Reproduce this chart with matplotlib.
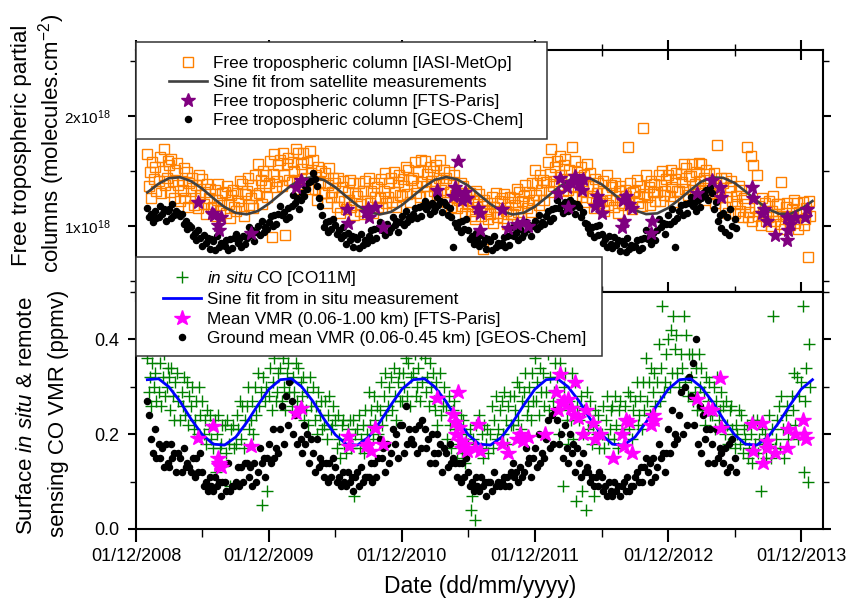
import numpy as np
import pandas as pd
import matplotlib
matplotlib.use("Agg")
import matplotlib.pyplot as plt
import matplotlib.dates as mdates
from matplotlib.patches import Rectangle
from matplotlib.ticker import MultipleLocator, FormatStrFormatter

plt.rcParams['font.family'] = 'Liberation Sans'
plt.rcParams['mathtext.fontset'] = 'custom'
plt.rcParams['mathtext.rm'] = 'Liberation Sans'
plt.rcParams['mathtext.it'] = 'Liberation Sans:italic'

# ---------------- data ----------------
# one row per month, Jan 2009 .. Dec 2013
months = pd.date_range('2009-01-01', '2013-12-01', freq='MS')
days8 = [1, 5, 8, 12, 15, 19, 23, 26]
days6 = [1, 6, 11, 16, 21, 26]

# IASI-MetOp free tropospheric column (x1e18 molecules/cm2), 8 per month
iasi = [
    [1.65, 1.36, 1.49, 1.25, 1.58, 1.43, 1.54, 1.32],
    [1.41, 1.63, 1.30, 1.50, 1.70, 1.37, 1.44, 1.59],
    [1.55, 1.31, 1.61, 1.41, 1.25, 1.51, 1.57, 1.37],
    [1.23, 1.41, 1.33, 1.53, 1.25, 1.49, 1.17, 1.39],
    [1.32, 1.44, 1.19, 1.25, 1.37, 1.16, 1.46, 1.28],
    [1.43, 1.20, 1.31, 1.11, 1.38, 1.25, 1.34, 1.16],
    [1.17, 1.33, 1.09, 1.24, 1.38, 1.14, 1.19, 1.30],
    [1.31, 1.12, 1.36, 1.20, 1.07, 1.28, 1.33, 1.17],
    [1.14, 1.30, 1.23, 1.41, 1.16, 1.38, 1.09, 1.29],
    [1.32, 1.44, 1.19, 1.25, 1.37, 1.16, 1.46, 1.28],
    [1.56, 1.30, 1.42, 1.20, 1.50, 1.36, 1.46, 1.26],
    [1.39, 1.59, 0.90, 1.47, 1.65, 1.35, 1.41, 1.55],
    # 2010
    [1.60, 1.36, 1.66, 1.46, 0.92, 1.56, 1.62, 1.42],
    [1.40, 1.58, 1.50, 1.70, 1.42, 1.66, 1.34, 1.56],
    [1.52, 1.66, 1.38, 1.44, 1.58, 1.34, 1.68, 1.48],
    [1.60, 1.34, 1.46, 1.24, 1.54, 1.40, 1.50, 1.30],
    [1.30, 1.48, 1.21, 1.37, 1.53, 1.26, 1.31, 1.44],
    [1.39, 1.17, 1.44, 1.26, 1.12, 1.35, 1.41, 1.23],
    [1.15, 1.31, 1.24, 1.42, 1.17, 1.39, 1.10, 1.30],
    [1.27, 1.39, 1.14, 1.20, 1.32, 1.11, 1.41, 1.23],
    [1.44, 1.21, 1.32, 1.12, 1.39, 1.26, 1.35, 1.17],
    [1.25, 1.43, 1.16, 1.32, 1.48, 1.21, 1.26, 1.39],
    [1.44, 1.22, 1.49, 1.31, 1.17, 1.40, 1.46, 1.28],
    [1.27, 1.43, 1.36, 1.54, 1.29, 1.51, 1.22, 1.42],
    # 2011
    [1.44, 1.58, 1.30, 1.36, 1.50, 1.26, 1.60, 1.40],
    [1.59, 1.36, 1.47, 1.27, 1.54, 1.41, 1.50, 1.32],
    [1.37, 1.55, 1.28, 1.44, 1.60, 1.33, 1.38, 1.51],
    [1.44, 1.22, 1.49, 1.31, 1.17, 1.40, 1.46, 1.28],
    [1.16, 1.30, 1.24, 1.39, 1.18, 1.36, 1.12, 1.28],
    [1.20, 1.30, 1.09, 1.14, 1.24, 1.06, 1.32, 1.17],
    [1.29, 1.09, 1.18, 0.79, 1.24, 1.14, 1.21, 1.06],
    [1.11, 1.26, 1.03, 1.17, 1.30, 1.08, 1.12, 1.23],
    [1.25, 1.07, 1.29, 1.14, 1.02, 1.22, 1.26, 1.11],
    [1.11, 1.25, 1.19, 1.34, 1.13, 1.31, 1.07, 1.23],
    [1.27, 1.37, 1.16, 1.21, 1.31, 1.13, 1.39, 1.24],
    [1.51, 1.28, 1.39, 1.19, 1.46, 1.33, 1.42, 1.24],
    # 2012
    [1.40, 1.58, 1.31, 1.47, 1.70, 1.36, 1.41, 1.54],
    [1.59, 1.37, 1.64, 1.46, 1.32, 1.55, 1.61, 1.43],
    [1.33, 1.51, 1.43, 1.72, 1.35, 1.59, 1.27, 1.49],
    [1.40, 1.54, 1.26, 1.32, 1.46, 1.22, 1.56, 1.36],
    [1.48, 1.25, 1.36, 1.16, 1.43, 1.30, 1.39, 1.21],
    [1.23, 1.41, 1.14, 1.30, 1.46, 1.19, 1.24, 1.37],
    [1.35, 1.17, 1.39, 1.24, 1.12, 1.32, 1.36, 1.21],
    [1.19, 1.33, 1.27, 1.72, 1.21, 1.39, 1.15, 1.31],
    [1.32, 1.42, 1.21, 1.26, 1.36, 1.18, 1.89, 1.29],
    [1.46, 1.26, 1.35, 1.19, 1.41, 1.31, 1.38, 1.23],
    [1.31, 1.46, 1.23, 1.37, 1.50, 1.28, 1.32, 1.43],
    [1.46, 1.27, 1.51, 1.35, 1.22, 1.43, 1.48, 1.32],
    # 2013
    [1.32, 1.47, 1.40, 1.56, 1.34, 1.53, 1.28, 1.45],
    [1.45, 1.56, 1.33, 1.38, 1.49, 1.30, 1.57, 1.41],
    [1.56, 1.33, 1.44, 1.24, 1.51, 1.38, 1.47, 1.29],
    [1.30, 1.48, 1.21, 1.37, 1.74, 1.26, 1.31, 1.44],
    [1.39, 1.17, 1.44, 1.26, 1.12, 1.35, 1.41, 1.23],
    [1.12, 1.27, 1.20, 1.36, 1.14, 1.33, 1.08, 1.25],
    [1.20, 1.72, 1.08, 1.13, 1.64, 1.05, 1.55, 1.16],
    [1.46, 1.09, 1.18, 1.01, 1.25, 1.13, 1.21, 1.05],
    [1.08, 1.23, 1.00, 1.14, 1.27, 1.05, 1.09, 1.20],
    [1.20, 1.02, 1.40, 1.09, 0.97, 1.17, 1.21, 1.06],
    [1.01, 1.15, 1.09, 1.24, 1.03, 1.21, 0.97, 1.13],
    [1.12, 1.22, 1.01, 1.06, 1.16, 0.72, 1.23, 1.09],
]

# GEOS-Chem free tropospheric column (x1e18), 6 per month, Jan 2009 .. Jun 2013
geos_col = [
    [1.16, 1.08, 1.11, 1.04, 1.14, 1.07],
    [1.08, 1.18, 1.11, 1.15, 1.05, 1.14],
    [1.15, 1.07, 1.20, 1.10, 1.14, 1.12],
    [1.09, 1.11, 1.02, 1.05, 0.97, 1.01],
    [0.99, 0.91, 0.94, 0.87, 0.96, 0.89],
    [0.82, 0.92, 0.85, 0.89, 0.79, 0.88],
    [0.86, 0.78, 0.91, 0.81, 0.85, 0.83],
    [0.82, 0.87, 0.78, 0.88, 0.80, 0.89],
    [0.93, 0.85, 0.88, 0.81, 0.91, 0.84],
    [0.89, 0.99, 0.92, 0.96, 0.86, 0.95],
    [1.00, 0.92, 1.05, 0.95, 0.99, 0.97],
    [1.04, 1.09, 1.00, 1.10, 1.02, 1.11],
    [1.18, 1.10, 1.13, 1.06, 1.16, 1.08],
    [1.18, 1.28, 1.21, 1.25, 1.15, 1.24],
    [1.30, 1.27, 1.36, 1.34, 1.40, 1.41],
    [1.48, 1.43, 1.36, 1.25, 1.18, 1.10],
    [0.99, 1.04, 0.95, 1.05, 0.97, 1.06],
    [1.01, 0.93, 0.96, 0.89, 0.99, 0.92],
    [0.84, 0.94, 0.87, 0.91, 0.81, 0.90],
    [0.88, 0.80, 0.93, 0.83, 0.87, 0.85],
    [0.91, 0.96, 0.87, 0.97, 0.89, 0.98],
    [1.04, 0.96, 0.99, 0.92, 1.02, 0.95],
    [0.98, 1.08, 1.01, 1.05, 0.95, 1.04],
    [1.09, 1.01, 1.14, 1.04, 1.08, 1.06],
    [1.11, 1.16, 1.07, 1.17, 1.09, 1.18],
    [1.23, 1.15, 1.18, 1.11, 1.21, 1.14],
    [1.16, 1.26, 1.19, 1.23, 1.13, 1.22],
    [1.19, 1.10, 1.16, 1.08, 0.81, 1.03],
    [0.99, 1.04, 0.95, 1.05, 0.97, 1.06],
    [0.96, 0.88, 0.91, 0.84, 0.94, 0.87],
    [0.82, 0.92, 0.85, 0.89, 0.79, 0.88],
    [0.86, 0.78, 0.91, 0.81, 0.85, 0.83],
    [0.85, 0.90, 0.81, 0.91, 0.83, 0.92],
    [0.99, 0.91, 0.94, 0.87, 0.97, 0.90],
    [0.94, 1.04, 0.97, 1.01, 0.91, 1.00],
    [1.05, 0.97, 1.10, 1.00, 1.04, 1.02],
    [1.09, 1.14, 1.05, 1.15, 1.07, 1.16],
    [1.24, 1.16, 1.19, 1.12, 1.22, 1.15],
    [1.14, 1.24, 1.17, 1.21, 1.11, 1.20],
    [1.17, 1.08, 1.13, 1.03, 1.02, 0.98],
    [0.94, 0.99, 0.90, 1.00, 0.92, 1.01],
    [0.93, 0.85, 0.88, 0.81, 0.91, 0.84],
    [0.80, 0.90, 0.83, 0.87, 0.77, 0.86],
    [0.84, 0.76, 0.89, 0.79, 0.83, 0.81],
    [0.82, 0.87, 0.78, 0.88, 0.80, 0.89],
    [0.96, 0.88, 0.91, 0.84, 0.94, 0.87],
    [0.96, 1.06, 0.99, 1.03, 0.93, 1.02],
    [1.10, 1.02, 1.15, 1.05, 0.81, 1.07],
    [1.14, 1.19, 1.10, 1.20, 1.12, 1.21],
    [1.26, 1.18, 1.21, 1.14, 1.24, 1.17],
    [1.25, 1.30, 1.27, 1.33, 1.24, 1.35],
    [1.30, 1.15, 1.22, 1.05, 1.10, 0.98],
    [1.12, 0.95, 1.08, 0.92, 1.15, 1.00],
    [1.06, 0.98],
]

# sine fit of satellite columns, value on the 1st of each month Jan 2009 .. Jan 2014
sat_fit = [1.305, 1.384, 1.434, 1.443, 1.408, 1.339, 1.253, 1.172, 1.119, 1.106, 1.137, 1.204,
           1.289, 1.371, 1.428, 1.445, 1.417, 1.353, 1.269, 1.186, 1.126, 1.105, 1.128, 1.190,
           1.274, 1.358, 1.420, 1.445, 1.425, 1.367, 1.284, 1.199, 1.134, 1.105, 1.121, 1.176,
           1.258, 1.344, 1.411, 1.444, 1.432, 1.380, 1.300, 1.214, 1.143, 1.108, 1.115, 1.164,
           1.242, 1.329, 1.402, 1.441, 1.438, 1.392, 1.315, 1.229, 1.154, 1.111, 1.110, 1.155,
           1.227]

# FTS-Paris free tropospheric column (x1e18)
fts_col_dates = ['2009-05-20', '2009-06-28', '2009-07-03', '2009-07-14', '2009-07-16', '2009-07-22',
                 '2009-10-13', '2010-02-13', '2010-02-27', '2010-07-04', '2010-07-06', '2010-08-25',
                 '2010-08-30', '2010-09-02', '2010-09-18', '2010-10-10', '2011-03-07', '2011-04-20',
                 '2011-04-26', '2011-05-04', '2011-05-08', '2011-05-15', '2011-05-22', '2011-05-29',
                 '2011-06-28', '2011-07-02', '2011-07-04', '2011-09-02', '2011-09-18', '2011-10-13',
                 '2011-10-30', '2011-11-12', '2012-02-02', '2012-02-08', '2012-02-28', '2012-03-01',
                 '2012-03-10', '2012-03-21', '2012-03-30', '2012-04-08', '2012-04-12', '2012-05-14',
                 '2012-05-20', '2012-05-28', '2012-06-03', '2012-07-26', '2012-07-30', '2012-08-01',
                 '2012-08-06', '2012-08-14', '2012-08-24', '2012-10-14', '2012-10-18', '2013-02-19',
                 '2013-04-01', '2013-04-23', '2013-04-25', '2013-07-20', '2013-07-22', '2013-08-16',
                 '2013-08-22', '2013-08-30', '2013-09-21', '2013-10-22', '2013-10-24', '2013-10-26',
                 '2013-10-30', '2013-11-15', '2013-12-12', '2013-12-16']
fts_col = [1.22, 1.12, 1.10, 1.01, 0.96, 1.08,
           0.94, 1.35, 1.42, 1.15, 1.03, 1.13,
           1.16, 1.08, 1.17, 0.99, 1.33, 1.27,
           1.35, 1.59, 1.30, 1.24, 1.31, 1.25,
           1.16, 1.12, 0.96, 1.15, 0.98, 1.02,
           1.04, 1.00, 1.30, 1.44, 1.35, 1.17,
           1.40, 1.45, 1.38, 1.33, 1.43, 1.18,
           1.27, 1.22, 1.12, 0.99, 1.24, 1.05,
           1.27, 1.20, 1.16, 0.94, 1.05, 1.30,
           1.42, 1.35, 1.26, 1.35, 1.25, 1.12,
           1.15, 1.05, 0.92, 0.87, 1.08, 0.96,
           1.02, 1.08, 1.08, 1.15]

# in situ CO (ppmv), 8 per month
insitu = [
    [0.36, 0.29, 0.32, 0.26, 0.35, 0.30, 0.33, 0.27],
    [0.29, 0.35, 0.26, 0.32, 0.37, 0.28, 0.30, 0.34],
    [0.32, 0.25, 0.34, 0.28, 0.23, 0.31, 0.33, 0.27],
    [0.23, 0.29, 0.26, 0.32, 0.24, 0.31, 0.22, 0.28],
    [0.26, 0.30, 0.21, 0.23, 0.27, 0.20, 0.30, 0.24],
    [0.27, 0.20, 0.23, 0.18, 0.25, 0.21, 0.24, 0.19],
    [0.17, 0.23, 0.12, 0.20, 0.24, 0.17, 0.18, 0.22],
    [0.22, 0.16, 0.23, 0.18, 0.09, 0.21, 0.22, 0.17],
    [0.18, 0.24, 0.21, 0.27, 0.19, 0.26, 0.17, 0.23],
    [0.26, 0.30, 0.21, 0.23, 0.27, 0.20, 0.30, 0.24],
    [0.33, 0.26, 0.29, 0.05, 0.32, 0.27, 0.30, 0.08],
    [0.28, 0.34, 0.25, 0.31, 0.36, 0.27, 0.29, 0.33],
    # 2010
    [0.34, 0.27, 0.36, 0.30, 0.25, 0.33, 0.35, 0.29],
    [0.26, 0.32, 0.29, 0.35, 0.27, 0.34, 0.25, 0.31],
    [0.28, 0.32, 0.23, 0.25, 0.29, 0.22, 0.32, 0.26],
    [0.30, 0.23, 0.26, 0.20, 0.29, 0.24, 0.27, 0.21],
    [0.22, 0.27, 0.19, 0.24, 0.28, 0.21, 0.22, 0.26],
    [0.23, 0.17, 0.24, 0.19, 0.15, 0.22, 0.23, 0.18],
    [0.16, 0.21, 0.19, 0.23, 0.17, 0.23, 0.07, 0.20],
    [0.21, 0.24, 0.17, 0.19, 0.22, 0.16, 0.25, 0.20],
    [0.29, 0.22, 0.25, 0.19, 0.28, 0.23, 0.26, 0.20],
    [0.25, 0.31, 0.22, 0.28, 0.33, 0.24, 0.26, 0.30],
    [0.32, 0.25, 0.34, 0.28, 0.23, 0.31, 0.33, 0.27],
    [0.27, 0.33, 0.30, 0.36, 0.28, 0.35, 0.26, 0.32],
    # 2011
    [0.33, 0.37, 0.28, 0.30, 0.34, 0.27, 0.37, 0.31],
    [0.36, 0.29, 0.32, 0.26, 0.35, 0.30, 0.33, 0.27],
    [0.25, 0.31, 0.22, 0.28, 0.33, 0.24, 0.26, 0.30],
    [0.26, 0.19, 0.28, 0.22, 0.17, 0.25, 0.27, 0.21],
    [0.15, 0.21, 0.18, 0.24, 0.16, 0.23, 0.14, 0.20],
    [0.18, 0.21, 0.04, 0.07, 0.19, 0.02, 0.22, 0.17],
    [0.24, 0.17, 0.20, 0.15, 0.22, 0.18, 0.21, 0.16],
    [0.20, 0.26, 0.17, 0.23, 0.28, 0.19, 0.21, 0.25],
    [0.27, 0.20, 0.29, 0.23, 0.18, 0.26, 0.28, 0.22],
    [0.22, 0.28, 0.25, 0.31, 0.23, 0.30, 0.21, 0.27],
    [0.29, 0.33, 0.24, 0.26, 0.30, 0.23, 0.33, 0.27],
    [0.36, 0.27, 0.31, 0.24, 0.34, 0.29, 0.33, 0.26],
    # 2012
    [0.29, 0.37, 0.25, 0.32, 0.39, 0.27, 0.29, 0.35],
    [0.32, 0.20, 0.35, 0.25, 0.09, 0.30, 0.33, 0.23],
    [0.18, 0.27, 0.23, 0.33, 0.19, 0.31, 0.06, 0.26],
    [0.23, 0.28, 0.08, 0.20, 0.25, 0.04, 0.29, 0.21],
    [0.27, 0.18, 0.22, 0.07, 0.25, 0.20, 0.24, 0.17],
    [0.20, 0.26, 0.17, 0.23, 0.28, 0.19, 0.21, 0.25],
    [0.26, 0.19, 0.28, 0.22, 0.17, 0.25, 0.27, 0.21],
    [0.20, 0.26, 0.23, 0.29, 0.21, 0.28, 0.19, 0.25],
    [0.27, 0.31, 0.22, 0.24, 0.28, 0.21, 0.31, 0.25],
    [0.36, 0.27, 0.31, 0.24, 0.34, 0.29, 0.33, 0.26],
    [0.31, 0.39, 0.27, 0.34, 0.47, 0.29, 0.31, 0.37],
    [0.40, 0.30, 0.42, 0.33, 0.45, 0.38, 0.41, 0.33],
    # 2013
    [0.30, 0.37, 0.34, 0.45, 0.31, 0.41, 0.28, 0.37],
    [0.32, 0.37, 0.27, 0.29, 0.34, 0.25, 0.37, 0.30],
    [0.34, 0.25, 0.29, 0.22, 0.32, 0.27, 0.31, 0.24],
    [0.24, 0.30, 0.21, 0.27, 0.32, 0.23, 0.25, 0.29],
    [0.26, 0.20, 0.27, 0.22, 0.18, 0.25, 0.26, 0.21],
    [0.17, 0.22, 0.20, 0.25, 0.18, 0.24, 0.16, 0.21],
    [0.19, 0.22, 0.15, 0.17, 0.20, 0.14, 0.23, 0.18],
    [0.23, 0.16, 0.19, 0.08, 0.21, 0.18, 0.20, 0.15],
    [0.18, 0.24, 0.15, 0.21, 0.45, 0.17, 0.19, 0.23],
    [0.26, 0.17, 0.28, 0.21, 0.15, 0.24, 0.26, 0.19],
    [0.21, 0.28, 0.25, 0.33, 0.22, 0.32, 0.19, 0.28],
    [0.31, 0.47, 0.12, 0.27, 0.34, 0.10, 0.39, 0.30],
]

# GEOS-Chem ground mean VMR (ppmv), 6 per month, Jan 2009 .. Jun 2013
geos_vmr = [
    [0.27, 0.24, 0.19, 0.16, 0.21, 0.15],
    [0.18, 0.15, 0.17, 0.13, 0.18, 0.14],
    [0.13, 0.18, 0.15, 0.16, 0.12, 0.16],
    [0.15, 0.12, 0.17, 0.13, 0.14, 0.13],
    [0.12, 0.15, 0.11, 0.15, 0.12, 0.16],
    [0.12, 0.09, 0.10, 0.08, 0.11, 0.09],
    [0.08, 0.11, 0.09, 0.10, 0.07, 0.10],
    [0.10, 0.08, 0.14, 0.08, 0.09, 0.09],
    [0.10, 0.13, 0.09, 0.13, 0.10, 0.14],
    [0.14, 0.11, 0.13, 0.09, 0.14, 0.10],
    [0.12, 0.17, 0.14, 0.15, 0.11, 0.15],
    [0.18, 0.14, 0.21, 0.15, 0.17, 0.16],
    [0.21, 0.26, 0.18, 0.28, 0.22, 0.31],
    [0.27, 0.20, 0.24, 0.18, 0.25, 0.19],
    [0.16, 0.22, 0.18, 0.20, 0.14, 0.19],
    [0.16, 0.12, 0.19, 0.13, 0.15, 0.14],
    [0.11, 0.14, 0.10, 0.14, 0.11, 0.15],
    [0.13, 0.10, 0.11, 0.09, 0.12, 0.10],
    [0.09, 0.12, 0.10, 0.11, 0.08, 0.11],
    [0.12, 0.09, 0.13, 0.10, 0.11, 0.11],
    [0.11, 0.14, 0.10, 0.14, 0.11, 0.15],
    [0.19, 0.15, 0.17, 0.12, 0.18, 0.14],
    [0.16, 0.21, 0.18, 0.20, 0.15, 0.22],
    [0.22, 0.16, 0.26, 0.18, 0.21, 0.19],
    [0.18, 0.21, 0.16, 0.22, 0.17, 0.23],
    [0.21, 0.17, 0.19, 0.14, 0.20, 0.16],
    [0.14, 0.20, 0.16, 0.18, 0.12, 0.17],
    [0.16, 0.13, 0.18, 0.14, 0.15, 0.14],
    [0.11, 0.14, 0.10, 0.14, 0.11, 0.15],
    [0.12, 0.09, 0.10, 0.08, 0.11, 0.09],
    [0.08, 0.11, 0.09, 0.10, 0.07, 0.10],
    [0.10, 0.08, 0.12, 0.09, 0.10, 0.09],
    [0.10, 0.11, 0.09, 0.11, 0.09, 0.12],
    [0.14, 0.11, 0.12, 0.10, 0.13, 0.11],
    [0.12, 0.17, 0.14, 0.15, 0.11, 0.15],
    [0.17, 0.13, 0.20, 0.14, 0.16, 0.15],
    [0.19, 0.23, 0.17, 0.24, 0.18, 0.25],
    [0.23, 0.18, 0.20, 0.15, 0.22, 0.17],
    [0.14, 0.20, 0.16, 0.18, 0.12, 0.17],
    [0.14, 0.11, 0.16, 0.12, 0.13, 0.12],
    [0.10, 0.11, 0.09, 0.11, 0.09, 0.12],
    [0.11, 0.08, 0.09, 0.07, 0.10, 0.08],
    [0.07, 0.10, 0.08, 0.09, 0.07, 0.09],
    [0.10, 0.08, 0.11, 0.08, 0.09, 0.09],
    [0.11, 0.12, 0.10, 0.13, 0.10, 0.13],
    [0.15, 0.12, 0.14, 0.10, 0.15, 0.11],
    [0.13, 0.18, 0.15, 0.16, 0.12, 0.16],
    [0.21, 0.16, 0.25, 0.18, 0.20, 0.19],
    [0.24, 0.29, 0.20, 0.30, 0.22, 0.32],
    [0.28, 0.35, 0.22, 0.40, 0.18, 0.26],
    [0.16, 0.24, 0.19, 0.21, 0.14, 0.21],
    [0.18, 0.14, 0.21, 0.15, 0.17, 0.16],
    [0.14, 0.17, 0.12, 0.18, 0.13, 0.19],
    [0.15, 0.12],
]

# sine fit of in situ data, 1st of each month Jan 2009 .. Jan 2014
insitu_fit = [0.315, 0.317, 0.300, 0.269, 0.232, 0.199, 0.179, 0.177, 0.194, 0.225, 0.262, 0.295,
              0.315, 0.317, 0.300, 0.269, 0.232, 0.199, 0.179, 0.177, 0.194, 0.225, 0.262, 0.295,
              0.315, 0.317, 0.300, 0.269, 0.232, 0.199, 0.179, 0.177, 0.194, 0.225, 0.262, 0.295,
              0.315, 0.317, 0.300, 0.269, 0.232, 0.199, 0.179, 0.177, 0.194, 0.225, 0.262, 0.295,
              0.315, 0.317, 0.300, 0.269, 0.232, 0.199, 0.179, 0.177, 0.194, 0.225, 0.262, 0.295,
              0.315]

# FTS-Paris mean VMR 0.06-1.00 km (ppmv)
fts_vmr_dates = ['2009-05-20', '2009-06-30', '2009-07-14', '2009-07-16', '2009-07-18', '2009-07-22',
                 '2009-10-13', '2010-02-13', '2010-02-27', '2010-07-06', '2010-07-08', '2010-08-25',
                 '2010-08-30', '2010-09-08', '2010-09-18', '2010-10-10', '2011-03-07', '2011-04-20',
                 '2011-04-26', '2011-04-28', '2011-05-04', '2011-05-08', '2011-05-12', '2011-05-15',
                 '2011-05-22', '2011-05-29', '2011-06-20', '2011-06-28', '2011-07-02', '2011-09-02',
                 '2011-09-18', '2011-10-13', '2011-10-20', '2011-10-30', '2011-11-12', '2011-12-28',
                 '2012-01-28', '2012-02-02', '2012-02-08', '2012-02-14', '2012-02-20', '2012-03-01',
                 '2012-03-10', '2012-03-18', '2012-03-21', '2012-03-28', '2012-04-12', '2012-04-20',
                 '2012-05-08', '2012-05-14', '2012-05-28', '2012-07-02', '2012-07-28', '2012-08-01',
                 '2012-08-08', '2012-08-15', '2012-08-24', '2012-10-14', '2012-10-20', '2012-10-24',
                 '2013-02-19', '2013-03-20', '2013-04-01', '2013-04-22', '2013-04-24', '2013-07-20',
                 '2013-07-22', '2013-08-16', '2013-08-18', '2013-08-28', '2013-08-30', '2013-09-21',
                 '2013-10-22', '2013-10-26', '2013-11-15', '2013-12-05', '2013-12-10', '2013-12-14']
fts_vmr = [0.193, 0.218, 0.150, 0.135, 0.140, 0.130,
           0.176, 0.245, 0.256, 0.197, 0.176, 0.176,
           0.180, 0.165, 0.214, 0.180, 0.276, 0.243,
           0.225, 0.200, 0.290, 0.215, 0.185, 0.170,
           0.180, 0.165, 0.170, 0.222, 0.165, 0.180,
           0.160, 0.190, 0.200, 0.185, 0.195, 0.200,
           0.290, 0.250, 0.327, 0.265, 0.270, 0.275,
           0.255, 0.240, 0.310, 0.235, 0.200, 0.250,
           0.224, 0.190, 0.200, 0.150, 0.200, 0.175,
           0.230, 0.225, 0.160, 0.220, 0.240, 0.230,
           0.274, 0.253, 0.250, 0.318, 0.214, 0.222,
           0.165, 0.224, 0.140, 0.185, 0.170, 0.160,
           0.170, 0.210, 0.200, 0.230, 0.200, 0.190]


def expand(rows, days):
    dates, vals = [], []
    for m, row in zip(months, rows):
        for d, v in zip(days, row):
            dates.append(m + pd.Timedelta(days=d - 1))
            vals.append(v)
    return dates, vals


iasi_d, iasi_v = expand(iasi, days8)
gcol_d, gcol_v = expand(geos_col, days6)
insitu_d, insitu_v = expand(insitu, days8)
gvmr_d, gvmr_v = expand(geos_vmr, days6)
fit_dates = pd.date_range('2009-01-01', '2014-01-01', freq='MS')

# ---------------- figure ----------------
fig = plt.figure(figsize=(8.49, 5.98), dpi=100)
ax1 = fig.add_axes([0.1602, 0.5117, 0.8092, 0.4047])
ax2 = fig.add_axes([0.1602, 0.1154, 0.8092, 0.3963])

h_iasi, = ax1.plot(iasi_d, iasi_v, ls='none', marker='s', mfc='none', mec='#FF8000',
                   ms=7.2, mew=1.0)
h_sat, = ax1.plot(fit_dates, sat_fit, color='#404040', lw=1.9)
h_gcol, = ax1.plot(gcol_d, gcol_v, ls='none', marker='o', color='black', ms=4.4)
h_fcol, = ax1.plot(pd.to_datetime(fts_col_dates), fts_col, ls='none', marker='*',
                   color='#800080', ms=10)

h_ins, = ax2.plot(insitu_d, insitu_v, ls='none', marker='+', color='#008000', ms=9, mew=1.0)
h_gvmr, = ax2.plot(gvmr_d, gvmr_v, ls='none', marker='o', color='black', ms=4.4)
h_fit, = ax2.plot(fit_dates, insitu_fit, color='#0000FF', lw=2.0)
h_fvmr, = ax2.plot(pd.to_datetime(fts_vmr_dates), fts_vmr, ls='none', marker='*',
                   color='#FF00FF', ms=11.5)

xmin, xmax = pd.Timestamp('2008-12-01'), pd.Timestamp('2014-01-30')
for ax in (ax1, ax2):
    ax.set_xlim(xmin, xmax)
    ax.xaxis.set_major_locator(mdates.MonthLocator(bymonth=12))
    ax.xaxis.set_minor_locator(mdates.MonthLocator(bymonth=6))
    for s in ax.spines.values():
        s.set_linewidth(1.5)

ax1.set_ylim(0.4, 2.6)
ax1.set_yticks([1, 2])
ax1.set_yticklabels(['1x10$^{18}$', '2x10$^{18}$'])
ax1.yaxis.set_minor_locator(MultipleLocator(0.5))
ax1.tick_params(axis='y', which='major', direction='out', length=6, width=1.5,
                labelsize=11, pad=12, right=True)
ax1.tick_params(axis='y', which='minor', direction='out', length=4, width=1.0, right=True)
ax1.tick_params(axis='x', which='major', direction='inout', length=14, width=1.5,
                top=True, labelbottom=False)
ax1.tick_params(axis='x', which='minor', direction='inout', length=8, width=1.0, top=True)

ax2.set_ylim(0, 0.5)
ax2.yaxis.set_major_locator(MultipleLocator(0.2))
ax2.yaxis.set_minor_locator(MultipleLocator(0.1))
ax2.yaxis.set_major_formatter(FormatStrFormatter('%.1f'))
ax2.xaxis.set_major_formatter(mdates.DateFormatter('%d/%m/%Y'))
ax2.tick_params(axis='y', which='major', direction='out', length=6, width=1.5,
                labelsize=13, pad=6, right=True)
ax2.tick_params(axis='y', which='minor', direction='out', length=4, width=1.0, right=True)
ax2.tick_params(axis='x', which='major', direction='out', length=9, width=1.5,
                labelsize=13, pad=5)
ax2.tick_params(axis='x', which='minor', direction='out', length=6, width=1.0)

# legends: opaque boxes drawn over both panels
fig.add_artist(Rectangle((0.1602, 0.7676), 0.4841, 0.1622, transform=fig.transFigure,
                         facecolor='white', edgecolor='#333333', lw=1.1, zorder=3))
fig.add_artist(Rectangle((0.1602, 0.4047), 0.5489, 0.1656, transform=fig.transFigure,
                         facecolor='white', edgecolor='#333333', lw=1.1, zorder=3))

leg_kw = dict(loc='upper left', bbox_transform=fig.transFigure, frameon=False,
              borderpad=0, borderaxespad=0, handlelength=2.2, handletextpad=0.35,
              labelspacing=0.25, fontsize=12.3, numpoints=1)
fig.legend([h_iasi, h_sat, h_fcol, h_gcol],
           ['Free tropospheric column [IASI-MetOp]', 'Sine fit from satellite measurements',
            'Free tropospheric column [FTS-Paris]', 'Free tropospheric column [GEOS-Chem]'],
           bbox_to_anchor=(0.199, 0.907), **leg_kw)
fig.legend([h_ins, h_fit, h_fvmr, h_gvmr],
           ['$\\it{in\\ situ}$ CO [CO11M]', 'Sine fit from in situ measurement',
            'Mean VMR (0.06-1.00 km) [FTS-Paris]', 'Ground mean VMR (0.06-0.45 km) [GEOS-Chem]'],
           bbox_to_anchor=(0.192, 0.550), **leg_kw)

# axis labels
fig.text(22 / 849, 1 - 145 / 598, 'Free tropospheric partial', rotation=90,
         ha='center', va='center', fontsize=16)
fig.text(52 / 849, 1 - 143 / 598, 'columns (molecules.cm$^{-2}$)', rotation=90,
         ha='center', va='center', fontsize=16)
fig.text(27 / 849, 1 - 416 / 598, 'Surface $\\it{in\\ situ}$ & remote', rotation=90,
         ha='center', va='center', fontsize=16)
fig.text(59 / 849, 1 - 413 / 598, 'sensing CO VMR (ppmv)', rotation=90,
         ha='center', va='center', fontsize=16)
fig.text(480 / 849, 1 - 587 / 598, 'Date (dd/mm/yyyy)', ha='center', va='center',
         fontsize=16.5)

fig.savefig('out.png', dpi=100)
